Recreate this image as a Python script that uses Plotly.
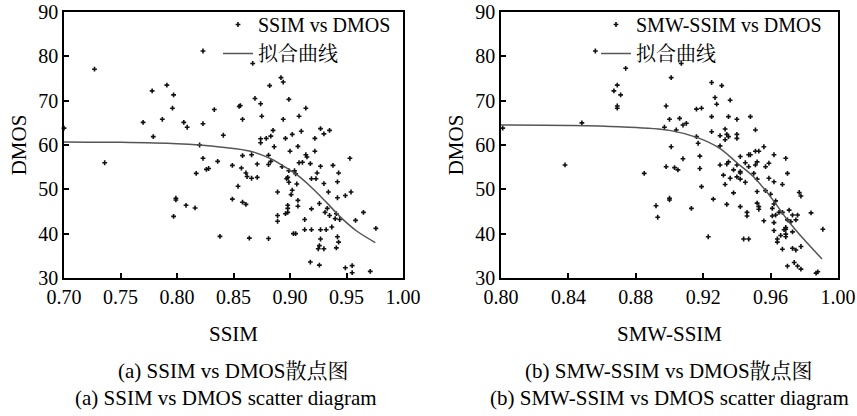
import plotly.graph_objects as go

# ---------------- data ----------------
ssim_x = [0.700, 0.727, 0.736, 0.770, 0.778, 0.779, 0.787, 0.791, 0.796, 0.797, 0.797, 0.799, 0.799,
          0.806, 0.808, 0.809, 0.816, 0.817, 0.820, 0.823, 0.823, 0.823, 0.826, 0.828, 0.833, 0.836,
          0.838, 0.841, 0.849, 0.849, 0.854, 0.855, 0.856, 0.857, 0.858, 0.858, 0.858, 0.861, 0.862,
          0.861, 0.864, 0.866, 0.866, 0.867, 0.869, 0.871, 0.871, 0.874, 0.874, 0.874, 0.875, 0.879,
          0.881, 0.881, 0.881, 0.882, 0.883, 0.883, 0.885, 0.886, 0.889, 0.889, 0.889, 0.892, 0.893,
          0.894, 0.894, 0.896, 0.896, 0.897, 0.898, 0.898, 0.898, 0.898, 0.899, 0.899, 0.899, 0.900,
          0.901, 0.902, 0.902, 0.903, 0.905, 0.904, 0.905, 0.906, 0.907, 0.907, 0.907, 0.908, 0.908,
          0.910, 0.911, 0.913, 0.913, 0.914, 0.914, 0.915, 0.918, 0.919, 0.919, 0.919, 0.918, 0.922,
          0.922, 0.923, 0.924, 0.926, 0.927, 0.927, 0.927, 0.927, 0.926, 0.925, 0.926, 0.930, 0.930,
          0.930, 0.931, 0.932, 0.933, 0.934, 0.935, 0.935, 0.937, 0.938, 0.941, 0.941, 0.942, 0.942,
          0.942, 0.943, 0.943, 0.944, 0.949, 0.949, 0.953, 0.954, 0.955, 0.955, 0.958, 0.965, 0.971,
          0.976, 0.940]
ssim_dmos = [63.8, 77.1, 56.0, 65.1, 72.2, 61.9, 65.8, 73.5, 68.3, 71.3, 43.9, 48.0, 47.6,
             65.1, 46.4, 64.0, 45.8, 53.6, 60.0, 81.2, 64.8, 57.0, 54.5, 54.7, 68.0, 56.3,
             39.4, 62.2, 55.4, 47.8, 50.7, 68.7, 68.9, 54.8, 65.8, 57.6, 47.1, 53.7, 52.9,
             46.6, 39.0, 57.8, 52.5, 78.4, 70.5, 55.7, 52.7, 69.3, 61.4, 60.5, 66.5, 61.5,
             57.7, 55.6, 38.9, 73.4, 62.0, 56.3, 63.3, 59.6, 49.4, 44.1, 42.8, 75.2, 55.1,
             74.2, 65.8, 61.5, 44.5, 52.4, 52.7, 46.4, 45.7, 44.8, 54.2, 51.6, 70.3, 58.6,
             48.8, 62.4, 49.8, 40.0, 40.0, 54.2, 53.5, 51.2, 59.7, 47.5, 46.2, 66.5, 56.0,
             63.1, 56.1, 43.2, 40.9, 68.3, 57.8, 57.3, 55.8, 52.4, 45.6, 40.9, 33.6, 61.5,
             58.6, 52.4, 53.7, 46.8, 55.2, 63.7, 40.9, 38.8, 37.3, 36.6, 32.9, 62.5, 51.3,
             36.6, 44.8, 40.9, 45.7, 49.4, 63.3, 44.1, 41.5, 55.4, 44.5, 36.8, 48.1, 51.7,
             39.3, 53.7, 38.1, 43.2, 48.6, 32.3, 57.0, 49.4, 32.8, 31.2, 43.0, 44.8, 31.5,
             41.2, 43.4]
ssim_fit_x = [0.700, 0.750, 0.800, 0.820, 0.840, 0.865, 0.883, 0.894, 0.906, 0.920, 0.9325, 0.944, 0.959, 0.9755]
ssim_fit_y = [60.7, 60.6, 60.3, 60.0, 59.5, 58.6, 56.9, 55.3, 53.3, 50.2, 47.0, 43.9, 40.6, 38.0]

smw_x = [0.801, 0.838, 0.848, 0.856, 0.867, 0.869, 0.869, 0.869, 0.871, 0.874, 0.885, 0.892, 0.893,
         0.897, 0.898, 0.898, 0.900, 0.900, 0.900, 0.901, 0.901, 0.903, 0.904, 0.905, 0.906, 0.907,
         0.908, 0.908, 0.910, 0.913, 0.916, 0.916, 0.917, 0.918, 0.918, 0.919, 0.919, 0.923, 0.925,
         0.925, 0.925, 0.926, 0.927, 0.928, 0.930, 0.930, 0.930, 0.931, 0.932, 0.933, 0.933, 0.933,
         0.934, 0.934, 0.934, 0.935, 0.935, 0.935, 0.936, 0.936, 0.938, 0.938, 0.940, 0.940, 0.940,
         0.940, 0.940, 0.942, 0.942, 0.942, 0.942, 0.942, 0.944, 0.945, 0.945, 0.946, 0.946, 0.947,
         0.947, 0.947, 0.948, 0.948, 0.950, 0.951, 0.951, 0.951, 0.952, 0.952, 0.952, 0.952, 0.953,
         0.953, 0.953, 0.956, 0.956, 0.957, 0.957, 0.959, 0.959, 0.960, 0.961, 0.961, 0.962, 0.962,
         0.962, 0.962, 0.962, 0.963, 0.963, 0.964, 0.964, 0.966, 0.965, 0.967, 0.967, 0.967, 0.968,
         0.969, 0.969, 0.969, 0.969, 0.969, 0.970, 0.970, 0.970, 0.971, 0.972, 0.973, 0.973, 0.973,
         0.974, 0.975, 0.975, 0.976, 0.976, 0.977, 0.978, 0.978, 0.978, 0.984, 0.987, 0.988, 0.991]
smw_dmos = [63.8, 55.5, 65.0, 81.2, 72.2, 73.5, 68.8, 68.3, 71.3, 77.3, 53.6, 46.3, 43.7,
            64.0, 68.8, 55.1, 65.8, 48.0, 47.6, 75.2, 59.6, 54.9, 63.4, 54.4, 66.0, 78.4,
            56.9, 64.5, 64.9, 45.7, 68.1, 61.9, 60.4, 57.5, 54.7, 68.3, 50.6, 39.3, 74.1,
            66.4, 63.0, 47.8, 70.7, 69.2, 62.1, 59.8, 55.5, 73.4, 53.2, 63.6, 61.2, 51.1,
            62.4, 55.7, 46.6, 61.9, 66.4, 56.2, 70.1, 52.5, 54.4, 49.2, 65.8, 62.4, 61.5,
            55.5, 52.8, 57.4, 54.0, 53.7, 52.3, 46.1, 38.8, 56.0, 51.6, 44.8, 44.0, 57.8,
            55.1, 38.8, 57.8, 66.4, 53.6, 63.4, 55.5, 58.6, 56.2, 52.3, 49.5, 46.9, 58.6,
            45.5, 46.1, 59.6, 42.9, 55.1, 49.7, 55.9, 52.5, 48.9, 45.7, 44.0, 57.8, 51.7,
            46.7, 42.5, 40.7, 44.2, 47.4, 38.8, 38.1, 39.6, 44.8, 51.1, 44.8, 36.5, 40.9,
            41.4, 41.0, 39.9, 39.3, 57.0, 43.1, 53.6, 32.7, 45.3, 42.7, 44.2, 40.4, 36.7,
            33.5, 36.3, 43.1, 44.2, 32.7, 49.3, 48.5, 37.1, 32.0, 44.7, 31.1, 31.4, 41.0]
smw_fit_x = [0.800, 0.840, 0.870, 0.900, 0.917, 0.930, 0.940, 0.950, 0.960, 0.970, 0.980, 0.9905]
smw_fit_y = [64.5, 64.4, 64.1, 63.3, 61.6, 59.2, 56.0, 52.8, 48.3, 43.1, 38.6, 34.3]

ssim_ticks = [0.70, 0.75, 0.80, 0.85, 0.90, 0.95, 1.00]
smw_ticks = [0.80, 0.84, 0.88, 0.92, 0.96, 1.00]
dmos_ticks = [30, 40, 50, 60, 70, 80, 90]

# ---------------- figure ----------------
W, H = 857, 416
SERIF = "Liberation Serif, Times New Roman, Noto Serif CJK SC, Noto Sans CJK SC, serif"

def px_x(p):
    return p / W

def px_y(p):
    return 1 - p / H

fig = go.Figure()

fig.add_trace(go.Scatter(x=ssim_x, y=ssim_dmos, mode="markers", name="SSIM vs DMOS",
                         marker=dict(symbol="cross", size=4, color="#111111", line=dict(width=0)),
                         xaxis="x", yaxis="y", legend="legend", cliponaxis=False))
fig.add_trace(go.Scatter(x=ssim_fit_x, y=ssim_fit_y, mode="lines", name="拟合曲线",
                         line=dict(color="#555555", width=1.5, shape="spline"),
                         xaxis="x", yaxis="y", legend="legend"))
fig.add_trace(go.Scatter(x=smw_x, y=smw_dmos, mode="markers", name="SMW-SSIM vs DMOS",
                         marker=dict(symbol="cross", size=4, color="#111111", line=dict(width=0)),
                         xaxis="x2", yaxis="y2", legend="legend2", cliponaxis=False))
fig.add_trace(go.Scatter(x=smw_fit_x, y=smw_fit_y, mode="lines", name="拟合曲线",
                         line=dict(color="#555555", width=1.5, shape="spline"),
                         xaxis="x2", yaxis="y2", legend="legend2"))

axis_common = dict(showgrid=False, zeroline=False, showline=True, linecolor="black", linewidth=1.5,
                   mirror=True, ticks="inside", ticklen=5, tickwidth=1.5, tickcolor="black",
                   automargin=False,
                   tickfont=dict(family=SERIF, size=20, color="black"))

ydom = [px_y(278), px_y(12)]
title_font = dict(family=SERIF, size=21, color="black")

fig.update_layout(
    width=W, height=H,
    margin=dict(l=0, r=0, t=0, b=0),
    paper_bgcolor="white", plot_bgcolor="white",
    showlegend=True,
    xaxis=dict(axis_common, domain=[px_x(64), px_x(403)], range=[0.70, 1.00],
               tickvals=ssim_ticks, ticktext=[f"{v:.2f}" for v in ssim_ticks], anchor="y",
               title=dict(text="SSIM", font=title_font, standoff=20)),
    yaxis=dict(axis_common, domain=ydom, range=[30, 90], tickvals=dmos_ticks, anchor="x",
               title=dict(text="DMOS", font=title_font, standoff=6)),
    xaxis2=dict(axis_common, domain=[px_x(501), px_x(838)], range=[0.80, 1.00],
                tickvals=smw_ticks, ticktext=[f"{v:.2f}" for v in smw_ticks], anchor="y2",
                title=dict(text="SMW-SSIM", font=title_font, standoff=20)),
    yaxis2=dict(axis_common, domain=ydom, range=[30, 90], tickvals=dmos_ticks, anchor="x2",
                title=dict(text="DMOS", font=title_font, standoff=6)),
    legend=dict(x=px_x(218), y=px_y(5), xanchor="left", yanchor="top", bgcolor="rgba(0,0,0,0)",
                font=dict(family=SERIF, size=20, color="black"), tracegroupgap=0, itemwidth=30),
    legend2=dict(x=px_x(596), y=px_y(5), xanchor="left", yanchor="top", bgcolor="rgba(0,0,0,0)",
                 font=dict(family=SERIF, size=20, color="black"), tracegroupgap=0, itemwidth=30),
)

captions = [
    (233, 371, "(a) SSIM vs DMOS散点图"),
    (226, 398, "(a) SSIM vs DMOS scatter diagram"),
    (669, 371, "(b) SMW-SSIM vs DMOS散点图"),
    (669, 398, "(b) SMW-SSIM vs DMOS scatter diagram"),
]
for cx, cy, txt in captions:
    fig.add_annotation(x=px_x(cx), y=px_y(cy), xref="paper", yref="paper", text=txt, showarrow=False,
                       xanchor="center", yanchor="middle",
                       font=dict(family=SERIF, size=21, color="black"))

fig.write_html("out.html", config={"displayModeBar": False},
               post_script="document.body.style.margin='0';document.body.style.overflow='hidden';")
